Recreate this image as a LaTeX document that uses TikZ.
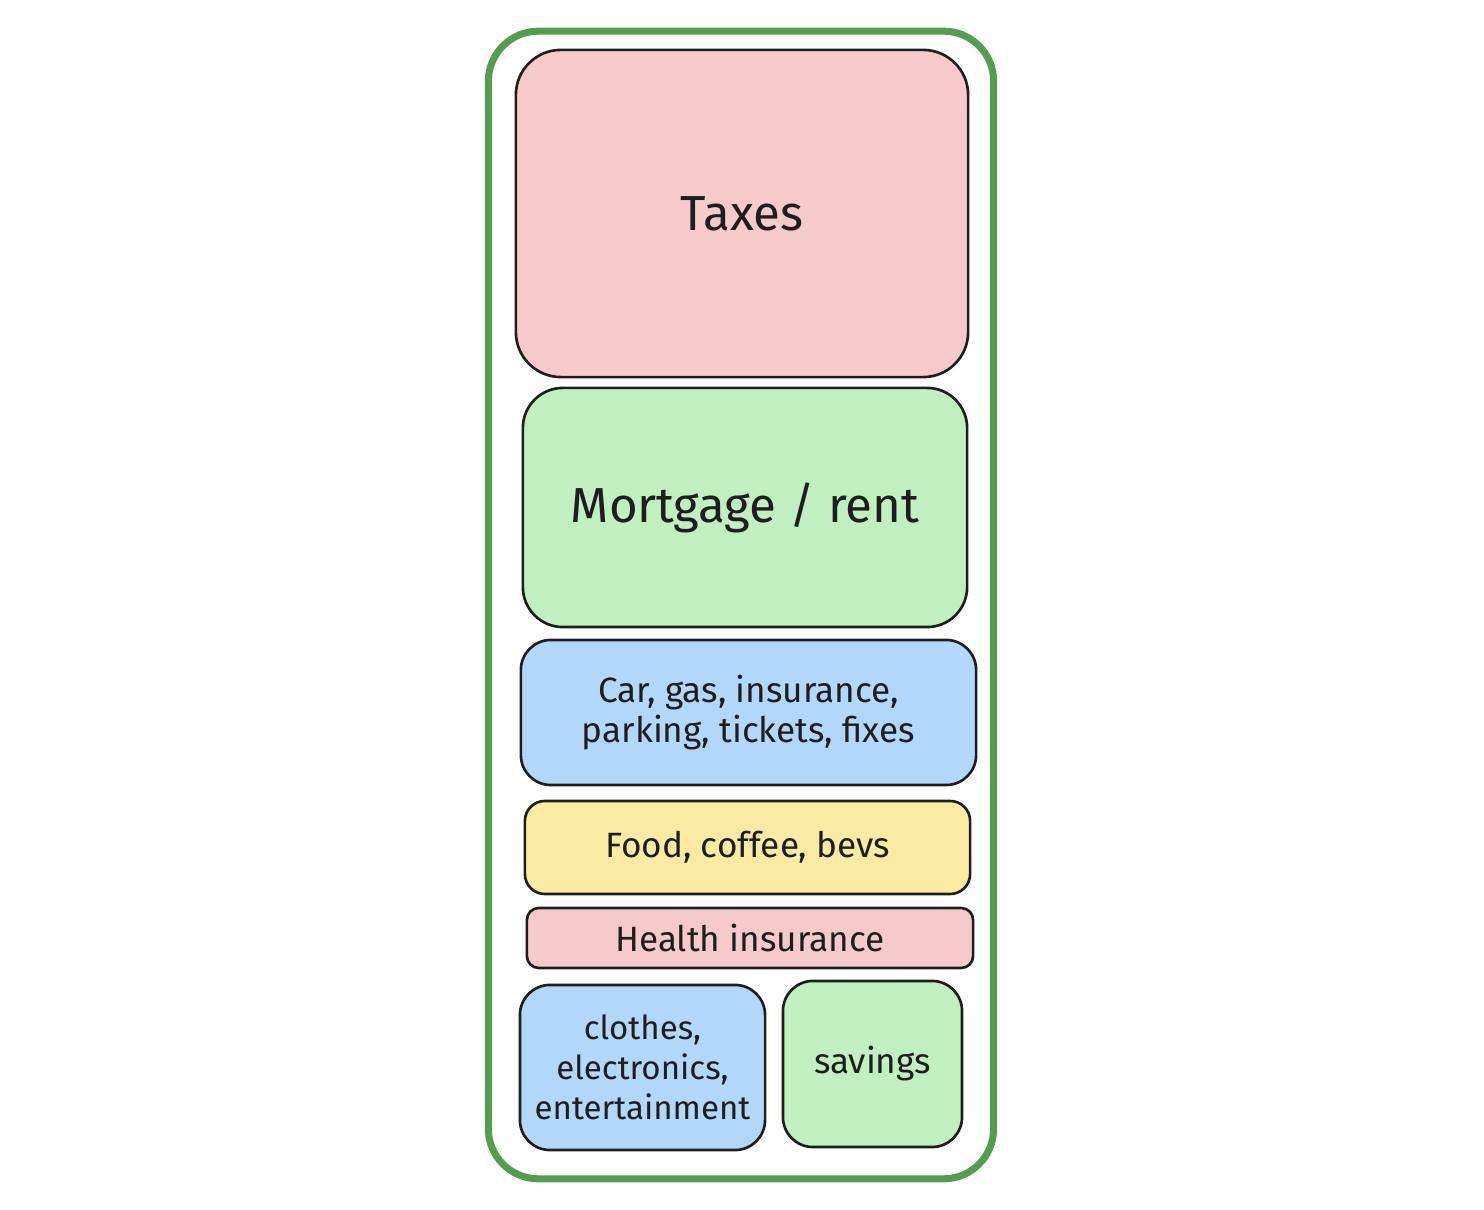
\documentclass[tikz,border=0pt]{standalone}
\usepackage{fontspec}
\setmainfont{Fira Sans}
\usetikzlibrary{positioning}

\definecolor{taxpink}{HTML}{F6CACA}
\definecolor{homegreen}{HTML}{C0F0BF}
\definecolor{carblue}{HTML}{B1D8FA}
\definecolor{foodyellow}{HTML}{FBEBA2}
\definecolor{framegreen}{HTML}{529E4E}
\definecolor{inkblack}{HTML}{1E1E1E}

\begin{document}
\begin{tikzpicture}[
    x=0.01cm, y=-0.01cm,
    frame/.style={rectangle, draw=framegreen, line width=2pt, rounded corners=0.5cm},
    budget/.style={rectangle, draw=inkblack, line width=0.75pt, text=inkblack, align=center, inner sep=0pt},
    big/.style={font=\fontsize{14}{17}\selectfont},
    small/.style={font=\fontsize{10}{11.4}\selectfont},
    tiny/.style={font=\fontsize{9.4}{11.4}\selectfont}
]
\useasboundingbox (0,0) rectangle (1484,1210);

% Outer frame
\node[frame, minimum width=5.05cm, minimum height=11.47cm] (income) at (741,605) {};

% Big items
\node[budget, big, fill=taxpink, rounded corners=0.45cm, minimum width=4.52cm, minimum height=3.27cm] (taxes) at (742,213.5) {Taxes};
\node[budget, big, fill=homegreen, rounded corners=0.4cm, minimum width=4.44cm, minimum height=2.39cm] (home) at (745,507.5) {Mortgage / rent};

% Smaller items
\node[budget, small, fill=carblue, rounded corners=0.3cm, minimum width=4.55cm, minimum height=1.45cm] (car) at (748.5,712.5) {Car, gas, insurance,\\parking, tickets, fixes};
\node[budget, small, fill=foodyellow, rounded corners=0.2cm, minimum width=4.45cm, minimum height=0.93cm] (food) at (747.5,847.5) {Food, coffee, bevs};
\node[budget, small, fill=taxpink, rounded corners=0.12cm, minimum width=4.46cm, minimum height=0.6cm] (health) at (750,938) {Health insurance};

% Bottom row
\node[budget, tiny, fill=carblue, rounded corners=0.3cm, minimum width=2.45cm, minimum height=1.65cm] (stuff) at (642.5,1067.5) {clothes,\\electronics,\\entertainment};
\node[budget, small, fill=homegreen, rounded corners=0.3cm, minimum width=1.79cm, minimum height=1.66cm] (savings) at (872.5,1064) {savings};
\end{tikzpicture}
\end{document}
